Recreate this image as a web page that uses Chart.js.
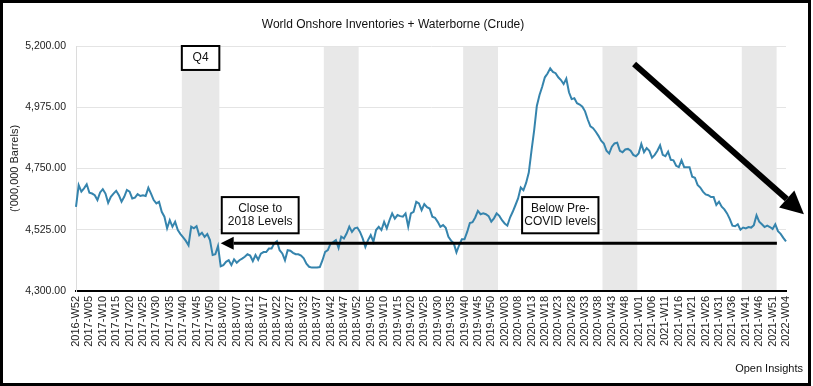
<!DOCTYPE html>
<html>
<head>
<meta charset="utf-8">
<title>World Onshore Inventories + Waterborne (Crude)</title>
<script src="https://cdn.jsdelivr.net/npm/chart.js@4.4.1/dist/chart.umd.min.js"></script>
<style>
  html, body { margin: 0; padding: 0; background: #fff; }
  #chart { display: block; }
</style>
</head>
<body>
<canvas id="chart" width="813" height="386"></canvas>
<script>
// World onshore inventories + waterborne crude, weekly ('000,000 barrels)

// --- categories: ISO-ish week labels, year -> [first week, last week]
const WEEK_SPANS = [
  [2016, 52, 52],
  [2017, 1, 53],
  [2018, 1, 52],
  [2019, 1, 52],
  [2020, 1, 52],
  [2021, 1, 52],
  [2022, 1, 4]
];
const weekLabels = [];
WEEK_SPANS.forEach(([yr, from, to]) => {
  for (let w = from; w <= to; w++) weekLabels.push(`${yr}-W${String(w).padStart(2, '0')}`);
});

// --- series values
const inv2017 = [
  4609, 4689, 4665, 4677, 4692, 4661, 4658, 4652, 4634, 4662,
  4674, 4658, 4624, 4646, 4658, 4668, 4652, 4628, 4646, 4671,
  4665, 4640, 4643, 4656, 4649, 4652, 4649, 4679, 4658, 4634,
  4622, 4628, 4591, 4573, 4530, 4560, 4536, 4554, 4524, 4509,
  4497, 4484, 4468, 4536, 4530, 4538, 4505, 4514, 4499, 4509,
  4487, 4432, 4435, 4465
];
const inv2018 = [
  4391, 4395, 4407, 4413, 4395, 4416, 4404, 4413, 4419, 4426,
  4435, 4430, 4410, 4432, 4415, 4437, 4443, 4443, 4456, 4456,
  4475, 4483, 4450, 4438, 4413, 4450, 4448, 4440, 4435, 4435,
  4430, 4420, 4400, 4389, 4386, 4386, 4386, 4388, 4413, 4444,
  4450, 4474, 4480, 4487, 4458, 4500, 4493, 4511, 4536, 4517,
  4530, 4533
];
const inv2019 = [
  4517, 4493, 4462, 4487, 4505, 4481, 4524, 4536, 4524, 4554,
  4530, 4560, 4585, 4566, 4579, 4575, 4573, 4585, 4536, 4585,
  4591, 4628, 4622, 4597, 4619, 4608, 4603, 4573, 4569, 4554,
  4536, 4542, 4532, 4499, 4485, 4475, 4442, 4468, 4490, 4490,
  4517, 4550, 4553, 4570, 4594, 4582, 4585, 4582, 4575, 4555,
  4567, 4585
];
const inv2020 = [
  4576, 4560, 4548, 4540, 4570, 4591, 4615, 4640, 4680, 4670,
  4697, 4735, 4815, 4890, 4980, 5020, 5050, 5085, 5099, 5118,
  5105, 5100, 5085, 5075, 5060, 5080, 5030, 5005, 5008, 4990,
  4985, 4977, 4960, 4930, 4905, 4898, 4885, 4870, 4852, 4842,
  4815, 4805, 4830, 4842, 4845, 4815, 4810, 4820, 4822, 4815,
  4800, 4795
];
const inv2021 = [
  4805, 4840, 4810, 4825, 4815, 4790, 4800, 4815, 4835, 4800,
  4795, 4812, 4782, 4780, 4760, 4755, 4780, 4755, 4755, 4755,
  4720, 4716, 4690, 4680, 4665, 4655, 4652, 4645, 4645, 4616,
  4628, 4610, 4600, 4585, 4565, 4540, 4538, 4545, 4525, 4533,
  4530, 4535, 4533, 4542, 4578, 4555, 4545, 4535, 4540, 4535,
  4528, 4545, 4520, 4510, 4495, 4482
];
const inventories = [...inv2017, ...inv2018, ...inv2019, ...inv2020, ...inv2021];

// --- axis
const Y_MIN = 4300, Y_MAX = 5200, Y_STEP = 225;

// --- shaded Q4 weeks
const q4Start = ['2017-W40', '2018-W40', '2019-W40', '2020-W40', '2021-W40'];
const q4End   = ['2017-W53', '2018-W52', '2019-W52', '2020-W52', '2021-W52'];

// --- annotations (in data terms: week index / value)
const notes = [
  {lines: ['Close to', '2018 Levels'], from: 54.4, to: 83.1, top: 4645, bottom: 4512},
  {lines: ['Below Pre-', 'COVID levels'], from: 166.5, to: 195, top: 4645, bottom: 4512}
];
const Q4_BOX_BOTTOM = 5112;
const flatArrow = {from: 261.6, to: 54, value: 4475};
const trendArrow = {from: [208.3, 5134], to: [271.7, 4582]};

const FONT = '"Liberation Sans", Arial, Helvetica, sans-serif';
const LINE_COLOR = '#3584ad';
const BAND_COLOR = '#e8e8e8';

const fmtNum = v => Number(v).toLocaleString('en-US', {minimumFractionDigits: 2, maximumFractionDigits: 2});

function arrow(ctx, x1, y1, x2, y2, width, headLen, headHalf){
  const ang = Math.atan2(y2 - y1, x2 - x1);
  const bx = x2 - Math.cos(ang) * headLen;
  const by = y2 - Math.sin(ang) * headLen;
  ctx.save();
  ctx.strokeStyle = '#000';
  ctx.fillStyle = '#000';
  ctx.lineWidth = width;
  ctx.lineCap = 'butt';
  ctx.beginPath();
  ctx.moveTo(x1, y1);
  ctx.lineTo(bx, by);
  ctx.stroke();
  ctx.beginPath();
  ctx.moveTo(x2, y2);
  ctx.lineTo(bx + Math.sin(ang) * headHalf, by - Math.cos(ang) * headHalf);
  ctx.lineTo(bx - Math.sin(ang) * headHalf, by + Math.cos(ang) * headHalf);
  ctx.closePath();
  ctx.fill();
  ctx.restore();
}

function textBox(ctx, x1, y1, x2, y2, lines){
  ctx.save();
  ctx.fillStyle = '#fff';
  ctx.fillRect(x1, y1, x2 - x1, y2 - y1);
  ctx.strokeStyle = '#000';
  ctx.lineWidth = 2;
  ctx.strokeRect(x1, y1, x2 - x1, y2 - y1);
  ctx.fillStyle = '#111';
  ctx.font = `12px ${FONT}`;
  ctx.textAlign = 'center';
  ctx.textBaseline = 'middle';
  const cx = (x1 + x2) / 2, cy = (y1 + y2) / 2, lh = 13.5;
  lines.forEach((t, i) => ctx.fillText(t, cx, cy + (i - (lines.length - 1) / 2) * lh));
  ctx.restore();
}

const overlay = {
  id: 'overlay',
  beforeDraw(chart){
    const {ctx, width, height} = chart;
    ctx.save();
    ctx.fillStyle = '#fff';
    ctx.fillRect(0, 0, width, height);
    ctx.restore();
  },
  beforeDatasetsDraw(chart){
    const {ctx, chartArea, scales: {x}} = chart;
    ctx.save();
    ctx.fillStyle = BAND_COLOR;
    q4Start.forEach((s, i) => {
      const a = x.getPixelForValue(weekLabels.indexOf(s) - 0.5);
      const b = x.getPixelForValue(weekLabels.indexOf(q4End[i]) + 0.5);
      ctx.fillRect(a, chartArea.top + 1, b - a, chartArea.bottom - chartArea.top - 2);
    });
    ctx.restore();
  },
  afterDraw(chart){
    const {ctx, chartArea, scales: {x, y}, width, height} = chart;
    // Q4 label box sits on the first shaded band
    const qa = x.getPixelForValue(weekLabels.indexOf(q4Start[0]) - 0.5);
    const qb = x.getPixelForValue(weekLabels.indexOf(q4End[0]) + 0.5);
    textBox(ctx, qa, chartArea.top, qb, y.getPixelForValue(Q4_BOX_BOTTOM), ['Q4']);

    notes.forEach(n => textBox(ctx, x.getPixelForValue(n.from), y.getPixelForValue(n.top),
      x.getPixelForValue(n.to), y.getPixelForValue(n.bottom), n.lines));

    const fy = y.getPixelForValue(flatArrow.value);
    arrow(ctx, x.getPixelForValue(flatArrow.from), fy, x.getPixelForValue(flatArrow.to), fy, 3, 13, 6.5);

    arrow(ctx, x.getPixelForValue(trendArrow.from[0]), y.getPixelForValue(trendArrow.from[1]),
      x.getPixelForValue(trendArrow.to[0]), y.getPixelForValue(trendArrow.to[1]), 6, 23, 11.5);

    // source
    ctx.save();
    ctx.fillStyle = '#111';
    ctx.font = `11px ${FONT}`;
    ctx.textAlign = 'right';
    ctx.textBaseline = 'middle';
    ctx.fillText('Open Insights', width - 10, height - 17);
    // frame
    ctx.strokeStyle = '#000';
    ctx.lineWidth = 3;
    ctx.strokeRect(1.5, 1.5, width - 5, height - 3);
    ctx.restore();
  }
};

new Chart(document.getElementById('chart'), {
  type: 'line',
  data: {
    labels: weekLabels,
    datasets: [{
      label: 'Inventories',
      data: inventories,
      borderColor: LINE_COLOR,
      borderWidth: 2,
      pointRadius: 0,
      tension: 0,
      fill: false
    }]
  },
  options: {
    responsive: false,
    animation: false,
    devicePixelRatio: 1,
    layout: {padding: {left: 0, right: 27, top: 0, bottom: 0}},
    plugins: {
      legend: {display: false},
      tooltip: {enabled: false},
      title: {
        display: true,
        text: 'World Onshore Inventories + Waterborne (Crude)',
        color: '#111',
        font: {family: FONT, size: 12, weight: 'normal'},
        padding: {top: 17, bottom: 14.6}
      }
    },
    scales: {
      x: {
        type: 'category',
        offset: false,
        grid: {display: false, drawTicks: false},
        border: {display: true, color: '#000', width: 2},
        ticks: {
          autoSkip: false,
          minRotation: 90,
          maxRotation: 90,
          padding: 5,
          color: '#222',
          font: {family: FONT, size: 11},
          callback(v, i){ return i % 5 === 0 ? this.getLabelForValue(v) : null; }
        },
        afterFit(s){ s.height = 95; }
      },
      y: {
        min: Y_MIN,
        max: Y_MAX,
        grid: {color: '#e4e4e4', drawTicks: false},
        border: {display: true, color: '#dcdcdc'},
        ticks: {
          stepSize: Y_STEP,
          padding: 10,
          color: '#222',
          font: {family: FONT, size: 10.5},
          callback: v => fmtNum(v)
        },
        title: {
          display: true,
          text: "('000,000 Barrels)",
          color: '#222',
          font: {family: FONT, size: 11},
          padding: {top: 8, bottom: 0}
        },
        afterFit(s){ s.width = 76; }
      }
    }
  },
  plugins: [overlay]
});
</script>
</body>
</html>
